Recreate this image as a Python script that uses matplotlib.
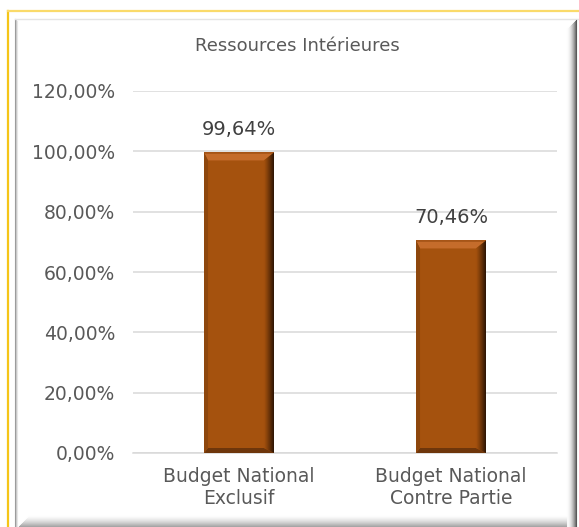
import matplotlib.pyplot as plt
import numpy as np
from matplotlib.patches import Polygon
from matplotlib.lines import Line2D

# data
categories = ['Budget National\nExclusif', 'Budget National\nContre Partie']
values = [99.64, 70.46]
yticks = [0, 20, 40, 60, 80, 100, 120]

plt.rcParams['font.family'] = ['DejaVu Sans']

fig = plt.figure(figsize=(5.79, 5.27), dpi=100)
fig.patch.set_facecolor('white')

# yellow outer frame (left + top) and the panel shadow edges
W, H = 579.0, 527.0
fig.add_artist(Line2D([8/W, 8/W], [0, 1 - 11/H], color='#F5C518', lw=1.6))
fig.add_artist(Line2D([8/W, 1], [1 - 11/H, 1 - 11/H], color='#FADA6A', lw=1.6))
for i, g in enumerate(['#9a9a9a', '#c8c8c8', '#e6e6e6']):
    fig.add_artist(Line2D([(15 + i)/W]*2, [0, 1 - (19 + i)/H], color=g, lw=0.8))
fig.add_artist(Line2D([15/W, 1], [1 - 19/H]*2, color='#e4e4e4', lw=1.0))
# right dark shadow
for i in range(11):
    g = 1 - 0.65 * (i / 10) ** 2
    fig.add_artist(Line2D([(566 + i)/W]*2, [0, 1 - (19 + 11 - i)/H],
                          color=(g, g, g), lw=0.8))
# bottom soft shadow
for i in range(12):
    g = 1 - 0.35 * (i / 11) ** 1.5
    fig.add_artist(Line2D([(18 + 12 - i)/W, 566/W], [(12 - i)/H]*2,
                          color=(g, g, g), lw=0.8))

ax = fig.add_axes([133/W, 1 - 453/H, 424/W, 362/H])
x = np.arange(len(categories))
bars = ax.bar(x, values, width=0.33, color='#A5520E', zorder=3)
ax.set_xlim(-0.5, 1.5)
ax.set_ylim(0, 120)

# bevel on each bar (sizes in pixels, converted to data units)
ppx = 2.0 / 424
ppy = 120.0 / 362
bt, bb, bl, br = 8 * ppy, 5 * ppy, 4 * ppx, 10 * ppx
base = np.array([165, 82, 14]) / 255
dark = np.array([40, 18, 4]) / 255
for b in bars:
    x0, w, h = b.get_x(), b.get_width(), b.get_height()
    x1 = x0 + w
    ax.add_patch(Polygon([[x0, h], [x1, h], [x1 - br, h - bt], [x0 + bl, h - bt]],
                         closed=True, color='#C56C2B', zorder=4, lw=0))
    ax.add_patch(Polygon([[x0, h], [x1, h], [x1 - br * 0.15, h - bt * 0.15],
                          [x0 + bl * 0.15, h - bt * 0.15]],
                         closed=True, color='#9C4E12', zorder=4, lw=0))
    ax.add_patch(Polygon([[x0, 0], [x1, 0], [x1 - br, bb], [x0 + bl, bb]],
                         closed=True, color='#6E360B', zorder=4, lw=0))
    ax.add_patch(Polygon([[x0, 0], [x0 + bl, bb], [x0 + bl, h - bt], [x0, h]],
                         closed=True, color='#8E470D', zorder=4, lw=0))
    # right side darkening gradient
    n = 10
    for k in range(n):
        f0, f1 = k / n, (k + 1) / n
        xa, xb = x1 - br + f0 * br, x1 - br + f1 * br
        c = base + (dark - base) * ((k + 0.5) / n) ** 1.2
        ax.add_patch(Polygon([[xa, bb * (1 - f0)], [xb, bb * (1 - f1)],
                              [xb, h - bt * (1 - f1)], [xa, h - bt * (1 - f0)]],
                             closed=True, color=c, zorder=5, lw=0))
    ax.annotate(f'{h:.2f}%'.replace('.', ','), xy=(x0 + w / 2, h),
                xytext=(0, 10), textcoords='offset points', ha='center',
                va='bottom', fontsize=14, color='#404040', zorder=6)

ax.set_yticks(yticks)
ax.set_yticklabels([f'{v:.2f}%'.replace('.', ',') for v in yticks])
ax.set_xticks(x)
ax.set_xticklabels(categories, fontsize=13.5, color='#595959', linespacing=1.2)
ax.tick_params(axis='y', length=0, pad=13, labelsize=13.5, labelcolor='#595959')
ax.tick_params(axis='x', length=0, pad=10)
ax.grid(axis='y', color='#D9D9D9', lw=1.1, zorder=0)
for s in ['top', 'right', 'left']:
    ax.spines[s].set_visible(False)
ax.spines['bottom'].set_color('#D9D9D9')
ax.spines['bottom'].set_linewidth(1.1)

fig.text(297/W, 1 - 46/H, 'Ressources Intérieures', ha='center', va='center',
         fontsize=13, color='#595959')

fig.savefig('out.png', dpi=100)
